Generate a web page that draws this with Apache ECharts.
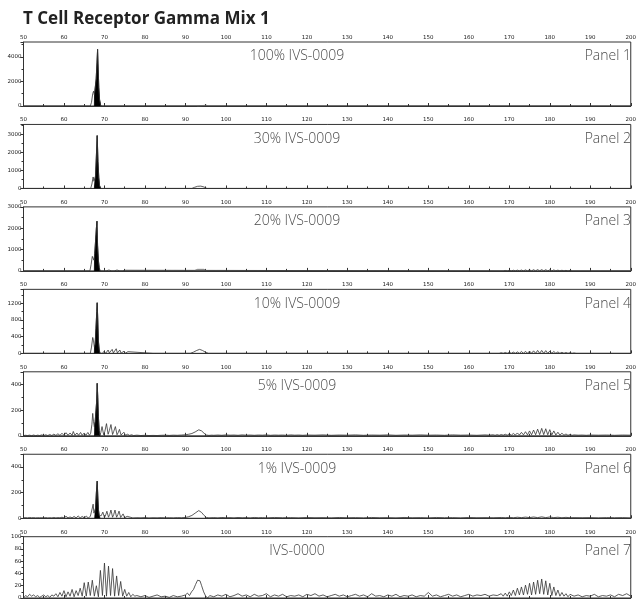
<!DOCTYPE html>
<html><head><meta charset="utf-8">
<script src="https://cdn.jsdelivr.net/npm/echarts@6/dist/echarts.min.js"></script>
<style>html,body{margin:0;padding:0;background:#fff}#c{width:639px;height:601px}</style>
</head><body><div id="c"></div>
<script>
const chartTitle = 'T Cell Receptor Gamma Mix 1';
const panelNames = ['Panel 1','Panel 2','Panel 3','Panel 4','Panel 5','Panel 6','Panel 7'];
const sampleNames = ['100% IVS-0009','30% IVS-0009','20% IVS-0009','10% IVS-0009','5% IVS-0009','1% IVS-0009','IVS-0000'];
const xMin = 50, xMax = 200, xInterval = 10;
const yMax = [5200, 3570, 3000, 1530, 500, 500, 100];
const yInterval = [2000, 1000, 1000, 400, 200, 200, 20];

// Panel 1
const trace1 = [[50,0],[61.7,0],[62,60],[62.3,0],[66.5,0],[66.8,300],[67.1,1000],[67.3,1200],[67.5,900],[67.7,1000],[67.95,2200],[68.15,3500],[68.3,4600],[68.45,3000],[68.6,1500],[68.8,500],[69.1,0],[200,0]];
const clone1 = [[67.5,0],[67.55,900],[67.7,1000],[67.95,2200],[68.15,3500],[68.3,4600],[68.45,3000],[68.6,1500],[68.8,500],[69.1,0]];
const band1 = [[92.9,0],[93,70],[95.3,70],[95.4,0]];
// Panel 2
const trace2 = [[50,0],[61.8,0],[62,30],[62.2,0],[66.6,0],[66.9,250],[67.2,640],[67.4,400],[67.6,300],[67.8,700],[68.0,1800],[68.2,2950],[68.4,1500],[68.6,600],[68.8,150],[69.1,0],[69.8,0],[70.1,25],[70.4,0],[71,0],[71.3,25],[71.6,0],[72.2,0],[72.5,25],[72.8,0],[73.5,0],[73.8,20],[74.1,0],[91.6,0],[92.2,60],[93,120],[93.8,130],[94.6,80],[95.3,0],[200,0]];
const clone2 = [[67.5,0],[67.6,300],[67.8,700],[68.0,1800],[68.2,2950],[68.4,1500],[68.6,600],[68.8,150],[69.1,0]];
// Panel 3
const trace3 = [[50,0],[60.8,0],[61,30],[61.2,0],[62.3,0],[62.5,30],[62.7,0],[63.3,0],[63.5,30],[63.7,0],[64.3,0],[64.5,30],[64.7,0],[65.3,0],[65.5,30],[65.7,0],[66.4,0],[66.7,300],[67.0,680],[67.2,700],[67.4,500],[67.6,820],[67.8,850],[68.0,2000],[68.15,2330],[68.3,1200],[68.5,500],[68.7,150],[68.9,0],[69.8,0],[70.1,40],[70.4,0],[70.8,0],[71.1,40],[71.4,0],[71.8,0],[72.1,45],[72.4,0],[72.8,0],[73.1,40],[73.4,0],[73.8,0],[74.1,35],[74.4,0],[74.8,0],[75.1,30],[75.4,0],[168.5,0],[169,20],[169.5,0],[170,25],[170.5,0],[171,30],[171.5,0],[172,35],[172.5,0],[173,40],[173.5,0],[174,45],[174.5,0],[175,50],[175.5,0],[176,55],[176.5,0],[177,60],[177.5,0],[178,60],[178.5,0],[179,55],[179.5,0],[180,50],[180.5,0],[181,45],[181.5,0],[182,35],[182.5,0],[183,30],[183.5,0],[184,25],[184.5,0],[185,20],[185.5,0],[200,0]];
const clone3 = [[67.5,0],[67.55,550],[67.6,820],[67.8,850],[68.0,2000],[68.15,2330],[68.3,1200],[68.5,500],[68.7,150],[68.9,0]];
const band3 = [[92,0],[92.3,60],[93,75],[94.6,75],[95.2,0]];
// Panel 4
const trace4 = [[50,0],[58,0],[58.3,15],[58.6,0],[60,0],[60.3,15],[60.6,0],[62,0],[62.3,20],[62.6,0],[63.7,0],[64,25],[64.3,0],[65.2,0],[65.5,20],[65.8,0],[66.5,0],[66.8,150],[67.1,380],[67.3,300],[67.5,150],[67.7,220],[67.9,600],[68.1,1000],[68.2,1210],[68.35,800],[68.5,300],[68.7,80],[68.9,0],[69.5,0],[69.9,50],[70.3,0],[70.6,10],[70.9,80],[71.2,10],[71.6,40],[71.9,95],[72.2,10],[72.6,40],[72.9,110],[73.2,10],[73.5,30],[73.8,80],[74.1,5],[74.5,20],[74.8,50],[75.1,0],[75.5,15],[75.8,40],[76.1,0],[82,0],[82.3,15],[82.6,0],[85,0],[85.3,10],[85.6,0],[88,0],[88.3,15],[88.6,0],[91.2,0],[92,30],[92.8,70],[93.5,95],[94.2,70],[95,25],[95.7,0],[167.5,0],[168,15],[168.5,0],[169,20],[169.5,0],[170,25],[170.5,0],[171,30],[171.5,0],[172,35],[172.5,0],[173,45],[173.5,0],[174,50],[174.5,0],[175,55],[175.5,0],[176,60],[176.5,0],[177,70],[177.5,0],[178,70],[178.5,0],[179,65],[179.5,0],[180,55],[180.5,0],[181,45],[181.5,0],[182,35],[182.5,0],[183,25],[183.5,0],[184,20],[184.5,0],[185,15],[185.5,0],[186,10],[186.5,0],[200,0]];
const clone4 = [[67.5,0],[67.55,150],[67.7,220],[67.9,600],[68.1,1000],[68.2,1210],[68.35,800],[68.5,300],[68.7,80],[68.9,0]];
// Panel 5
const trace5 = [[50,2],[50.5,4],[51,2],[51.5,5],[52,1],[52.5,6],[53,1],[53.5,5],[54,2],[54.5,7],[55,2],[55.5,8],[56,2],[56.5,10],[57,2],[57.5,13],[58,3],[58.5,16],[59,3],[59.5,20],[60,4],[60.5,24],[61,4],[61.5,22],[62,4],[62.3,34],[62.7,4],[63.2,22],[63.6,4],[64.1,26],[64.5,4],[65,22],[65.4,4],[65.9,26],[66.3,4],[66.6,20],[66.9,90],[67.1,175],[67.3,110],[67.5,70],[67.7,110],[67.9,100],[68.05,260],[68.2,410],[68.35,300],[68.5,150],[68.7,40],[68.9,5],[69.1,25],[69.4,72],[69.8,8],[70.1,35],[70.5,95],[70.9,12],[71.2,40],[71.6,88],[72,10],[72.3,35],[72.7,72],[73.1,8],[73.4,25],[73.7,50],[74.1,6],[74.4,15],[74.8,28],[75.2,4],[75.7,12],[76.2,3],[76.7,8],[77.2,2],[78,5],[79,2],[80,4],[81,2],[82,3],[83,2],[84,4],[85,5],[86,3],[87,5],[88,4],[89,6],[90,8],[90.8,12],[91.6,18],[92.4,30],[93.3,47],[94,38],[94.6,20],[95.2,6],[95.8,3],[96.5,5],[97,4],[98,6],[99,4],[100,7],[101,5],[102,6],[103,4],[104,7],[105,5],[106,6],[107,4],[108,6],[109,5],[110,7],[111,4],[112,6],[113,5],[114,6],[115,4],[116,7],[117,5],[118,6],[119,4],[120,6],[122,5],[124,7],[126,4],[128,6],[130,5],[132,7],[134,4],[136,6],[138,5],[140,7],[142,4],[144,6],[146,5],[148,7],[150,5],[152,6],[154,4],[156,7],[158,5],[160,6],[162,4],[164,7],[165,5],[166,8],[166.5,4],[167,9],[167.5,4],[168,10],[168.5,5],[169,12],[169.5,5],[170,15],[170.5,5],[171,18],[171.5,6],[172,22],[172.5,6],[173,27],[173.5,7],[174,32],[174.5,7],[175,38],[175.5,8],[176,45],[176.5,8],[177,52],[177.5,9],[178,58],[178.5,9],[179,55],[179.5,8],[180,48],[180.5,7],[181,38],[181.5,6],[182,28],[182.5,5],[183,20],[183.5,5],[184,14],[184.5,4],[185,10],[185.5,4],[186,7],[187,5],[188,6],[189,4],[190,6],[192,5],[194,6],[196,4],[198,6],[200,5]];
const clone5 = [[67.55,0],[67.6,90],[67.7,110],[67.9,100],[68.05,260],[68.2,410],[68.35,300],[68.5,150],[68.7,40],[68.9,0]];
// Panel 6
const trace6 = [[50,3],[50.5,5],[51,2],[51.5,6],[52,3],[52.5,5],[53,2],[53.5,4],[54,3],[54.5,4],[55,2],[55.5,5],[56,2],[56.5,4],[57,2],[57.5,6],[58,2],[58.5,5],[59,3],[59.5,8],[60,3],[60.5,15],[61,3],[61.5,10],[62,3],[62.5,14],[63,3],[63.5,18],[64,3],[64.5,14],[65,3],[65.5,16],[66,3],[66.5,14],[66.8,20],[67.0,80],[67.2,110],[67.4,40],[67.6,30],[67.8,80],[68.0,200],[68.2,290],[68.35,180],[68.5,70],[68.7,20],[68.9,5],[69.2,20],[69.6,48],[70,6],[70.3,25],[70.6,55],[71,8],[71.3,30],[71.6,64],[72,8],[72.3,30],[72.6,64],[73,8],[73.3,28],[73.6,56],[74,6],[74.3,18],[74.6,34],[75,4],[75.3,8],[75.6,15],[76,3],[76.5,7],[77,2],[78,4],[79,3],[80,5],[81,2],[82,4],[83,3],[84,5],[85,3],[86,4],[87,3],[88,5],[89,4],[90,6],[90.8,12],[91.6,22],[92.4,40],[93.3,60],[94,45],[94.6,22],[95.2,6],[95.8,3],[97,5],[98,3],[99,6],[100,4],[101,5],[102,3],[103,6],[104,4],[105,5],[106,3],[107,6],[108,4],[109,5],[110,3],[112,6],[114,4],[116,5],[118,3],[120,6],[122,4],[124,5],[126,3],[128,6],[130,4],[132,5],[134,3],[136,6],[138,4],[140,5],[142,3],[144,6],[146,4],[148,5],[150,3],[152,6],[154,4],[156,5],[158,3],[160,6],[162,4],[164,5],[166,4],[168,6],[169,4],[170,7],[171,4],[172,8],[173,5],[174,9],[175,5],[176,10],[177,5],[178,11],[179,5],[180,10],[181,5],[182,8],[183,4],[184,7],[185,4],[186,5],[188,4],[190,5],[192,3],[194,5],[196,4],[198,5],[200,3]];
const clone6 = [[67.6,0],[67.65,30],[67.8,80],[68.0,200],[68.2,290],[68.35,180],[68.5,70],[68.7,20],[68.9,0]];
// Panel 7
const trace7 = [[50,0],[50.5,4],[51,2],[51.5,6],[52,3],[52.5,5],[53,2],[53.5,4],[54,1],[54.5,3],[55,5],[55.5,2],[56,4],[56.5,1],[57,5],[57.5,3],[58,7],[58.5,2],[59,9],[59.5,3],[60,12],[60.5,2],[61,10],[61.5,3],[62,14],[62.5,2],[63,12],[63.5,4],[64,16],[64.5,3],[65,25],[65.5,3],[66,26],[66.5,4],[67,29],[67.5,3],[68,20],[68.5,2],[69,45],[69.5,4],[70,57],[70.5,3],[71,52],[71.5,4],[72,48],[72.5,3],[73,36],[73.5,4],[74,27],[74.5,3],[75,14],[75.5,3],[76,9],[76.5,2],[77,6],[77.5,3],[78,4],[79,2],[80,4],[81,1],[82,3],[83,5],[84,2],[85,3],[86,1],[87,4],[88,2],[89,3],[90,5],[90.5,8],[91,4],[91.5,10],[92,14],[92.5,22],[93,29],[93.3,31],[93.6,28],[94,20],[94.5,10],[95,3],[95.5,0],[96,4],[97,2],[98,5],[99,3],[100,6],[101,2],[102,4],[103,7],[104,3],[105,5],[106,2],[107,6],[108,3],[109,4],[110,7],[111,2],[112,5],[113,3],[114,6],[115,2],[116,4],[117,3],[118,5],[119,2],[120,6],[121,4],[122,7],[123,3],[124,5],[125,2],[126,4],[127,6],[128,3],[129,5],[130,2],[131,4],[132,6],[133,3],[134,5],[135,2],[136,7],[137,3],[138,4],[139,2],[140,5],[141,3],[142,6],[143,2],[144,4],[145,3],[146,5],[147,2],[148,4],[149,3],[150,9],[151,3],[152,5],[153,2],[154,4],[155,6],[156,3],[157,5],[158,2],[159,4],[160,6],[161,3],[162,5],[163,4],[164,6],[165,3],[166,5],[167,4],[168,7],[168.5,3],[169,8],[169.5,3],[170,10],[170.5,4],[171,13],[171.5,4],[172,16],[172.5,5],[173,18],[173.5,5],[174,21],[174.5,6],[175,24],[175.5,5],[176,26],[176.5,6],[177,29],[177.5,7],[178,31],[178.5,6],[179,28],[179.5,5],[180,24],[180.5,4],[181,18],[181.5,4],[182,13],[182.5,3],[183,9],[183.5,3],[184,7],[184.5,2],[185,6],[186,3],[187,5],[188,2],[189,4],[190,3],[191,6],[192,2],[193,4],[194,3],[195,5],[196,2],[197,6],[198,4],[199,7],[200,3]];

const traces = [trace1, trace2, trace3, trace4, trace5, trace6, trace7];
const clones = [clone1, clone2, clone3, clone4, clone5, clone6, null];
const bands = [band1, null, band3, null, null, null, null];

const gridLeft = 23.5, gridRight = 4, gridTop0 = 42, gridStep = 82.45, gridH = 64;
const grids = [], xAxes = [], yAxes = [], series = [], graphics = [];
for (let i = 0; i < 7; i++) {
  const top = gridTop0 + gridStep * i;
  grids.push({left: gridLeft, right: gridRight, top: top, height: gridH, show: true, borderColor: '#333', borderWidth: 1, backgroundColor: 'transparent'});
  xAxes.push({
    gridIndex: i, type: 'value', position: 'top', min: xMin, max: xMax, interval: xInterval,
    axisLine: {show: true, lineStyle: {color: '#333', width: 1}},
    axisTick: {show: true, length: 3, lineStyle: {color: '#333'}},
    minorTick: {show: true, splitNumber: 2, length: 2, lineStyle: {color: '#333'}},
    splitLine: {show: false},
    axisLabel: {fontSize: 5.5, color: '#222', margin: 1.5, fontFamily: 'DejaVu Sans', showMaxLabel: true}
  });
  const iv = yInterval[i];
  yAxes.push({
    gridIndex: i, type: 'value', min: 0, max: yMax[i], interval: iv,
    axisLine: {show: true, lineStyle: {color: '#333', width: 1}},
    axisTick: {show: true, length: 3, lineStyle: {color: '#333'}},
    minorTick: {show: true, splitNumber: 2, length: 2, lineStyle: {color: '#333'}},
    splitLine: {show: false},
    axisLabel: {fontSize: 5.5, color: '#222', margin: 2, fontFamily: 'DejaVu Sans',
      formatter: v => (Math.abs(v % iv) < 1e-9 ? String(v) : '')}
  });
  if (bands[i]) series.push({type: 'line', xAxisIndex: i, yAxisIndex: i, data: bands[i], showSymbol: false, symbol: 'none',
    lineStyle: {color: '#888', width: 0.8}, areaStyle: {color: '#999', opacity: 1}, z: 2, silent: true});
  if (clones[i]) series.push({type: 'line', xAxisIndex: i, yAxisIndex: i, data: clones[i], showSymbol: false, symbol: 'none',
    lineStyle: {color: '#000', width: 0.8}, areaStyle: {color: '#000', opacity: 1}, z: 2, silent: true});
  series.push({type: 'line', xAxisIndex: i, yAxisIndex: i, data: traces[i], showSymbol: false, symbol: 'none',
    lineStyle: {color: '#333', width: 0.8}, z: 3, silent: true});
  graphics.push({type: 'text', x: 297, y: top + 14.5, style: {text: sampleNames[i], fill: '#4a4a4a', font: '300 14px "Open Sans"', align: 'center', verticalAlign: 'middle'}});
  graphics.push({type: 'text', x: 631, y: top + 14.5, style: {text: panelNames[i], fill: '#4a4a4a', font: '300 14px "Open Sans"', align: 'right', verticalAlign: 'middle'}});
}
graphics.push({type: 'text', x: 23, y: 19, style: {text: chartTitle, fill: '#222', font: '700 17px "Open Sans"', align: 'left', verticalAlign: 'middle'}});

const chart = echarts.init(document.getElementById('c'), null, {renderer: 'canvas'});
chart.setOption({animation: false, backgroundColor: '#fff', grid: grids, xAxis: xAxes, yAxis: yAxes, series: series, graphic: graphics});
</script></body></html>
